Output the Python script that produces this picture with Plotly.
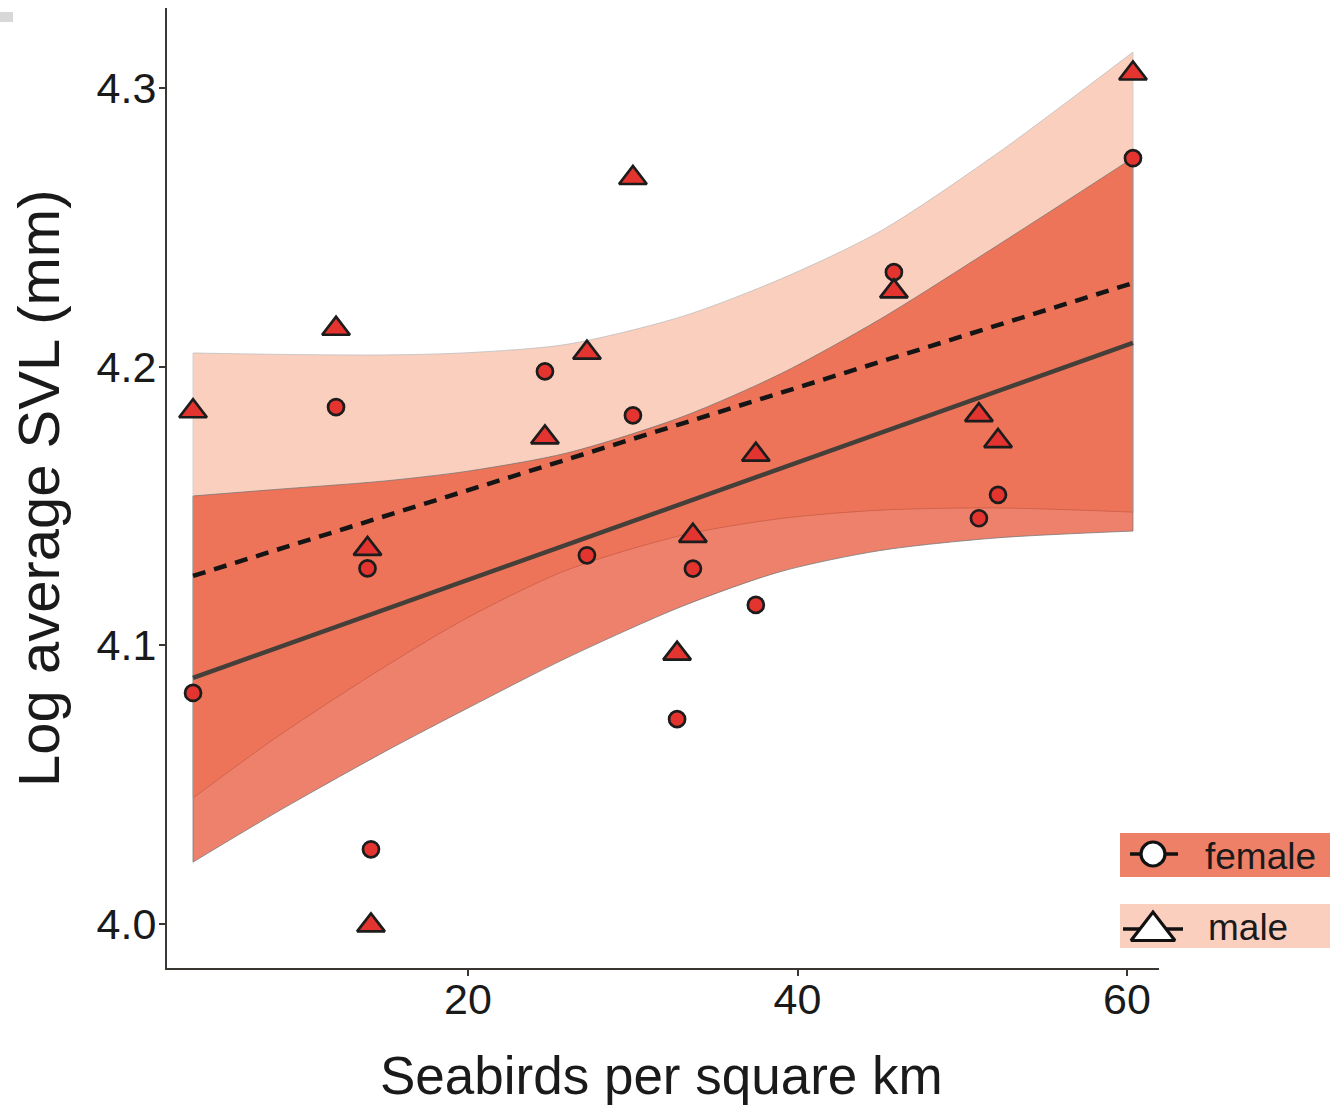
import plotly.graph_objects as go

# ---------------- data ----------------
seabirds = [3.31, 11.99, 13.9, 14.11, 24.67, 27.22, 30.01, 32.69, 33.65, 37.47, 45.85, 51.01, 52.17, 60.36]
svl_female = [4.0829, 4.1855, 4.1276, 4.0268, 4.1983, 4.1323, 4.1825, 4.0735, 4.1275, 4.1145, 4.2339, 4.1456, 4.1540, 4.2748]
svl_male = [4.1840, 4.2136, 4.1346, 3.9995, 4.1746, 4.2050, 4.2677, 4.0970, 4.1393, 4.1684, 4.2270, 4.1826, 4.1733, 4.3052]

fit_x = [3.31, 60.36]
fit_female = [4.0883, 4.2085]
fit_male = [4.1249, 4.2300]

band_x = [3.31, 8.5, 15.0, 20.0, 26.0, 33.0, 39.0, 45.0, 52.0, 60.36]
male_upper = [4.2049, 4.2044, 4.2042, 4.2050, 4.2080, 4.2180, 4.2315, 4.2485, 4.2760, 4.3129]
male_lower = [4.0452, 4.0675, 4.0925, 4.1100, 4.1270, 4.1395, 4.1455, 4.1485, 4.1493, 4.1478]
female_upper = [4.1536, 4.1560, 4.1590, 4.1625, 4.1690, 4.1820, 4.1975, 4.2170, 4.2430, 4.2749]
female_lower = [4.0222, 4.0405, 4.0620, 4.0775, 4.0955, 4.1140, 4.1265, 4.1340, 4.1385, 4.1410]

x_ticks = [20, 40, 60]
y_ticks = [4.0, 4.1, 4.2, 4.3]
legend_labels = ["female", "male"]

# ---------------- styling ----------------
W, H = 1341, 1109
PL, PR, PT, PB = 167, 1159, 8, 968  # panel edges in pixels
FONT = "Liberation Sans, Arial, Helvetica, sans-serif"
TXT = "#1a1a1a"
AX = "#3a3632"
PEACH = "#FBCFBE"
FEM_FILL = "rgba(231,80,50,0.72)"
EDGE = "rgba(115,115,115,0.75)"
PT_FILL = "#E3342F"
PT_LINE = "#1c1c1c"

fig = go.Figure()

# male band (drawn first)
fig.add_trace(go.Scatter(x=band_x, y=male_lower, mode="lines",
                         line=dict(color=EDGE, width=1, shape="spline", smoothing=0.8),
                         hoverinfo="skip", showlegend=False))
fig.add_trace(go.Scatter(x=band_x, y=male_upper, mode="lines", fill="tonexty",
                         fillcolor=PEACH,
                         line=dict(color="rgba(190,190,190,0.8)", width=1, shape="spline",
                                   smoothing=0.8),
                         hoverinfo="skip", showlegend=False))
# female band (semi-transparent, on top)
fig.add_trace(go.Scatter(x=band_x, y=female_lower, mode="lines",
                         line=dict(color=EDGE, width=1, shape="spline", smoothing=0.8),
                         hoverinfo="skip", showlegend=False))
fig.add_trace(go.Scatter(x=band_x, y=female_upper, mode="lines", fill="tonexty",
                         fillcolor=FEM_FILL,
                         line=dict(color=EDGE, width=1, shape="spline", smoothing=0.8),
                         hoverinfo="skip", showlegend=False))
# vertical band ends
for lo, hi, col in [(male_lower, male_upper, "rgba(200,200,200,0.8)"),
                    (female_lower, female_upper, EDGE)]:
    for i in (0, -1):
        fig.add_trace(go.Scatter(x=[band_x[i], band_x[i]], y=[lo[i], hi[i]], mode="lines",
                                 line=dict(color=col, width=1), hoverinfo="skip",
                                 showlegend=False))

# fitted lines
fig.add_trace(go.Scatter(x=fit_x, y=fit_female, mode="lines",
                         line=dict(color="#453f3a", width=4.5), showlegend=False))
fig.add_trace(go.Scatter(x=fit_x, y=fit_male, mode="lines",
                         line=dict(color="#151515", width=4.5, dash="13px,9px"),
                         showlegend=False))

# points
fig.add_trace(go.Scatter(x=seabirds, y=svl_female, mode="markers", name="female",
                         marker=dict(symbol="circle", size=16, color=PT_FILL,
                                     line=dict(color=PT_LINE, width=2.7)),
                         showlegend=False))
fig.add_trace(go.Scatter(x=seabirds, y=svl_male, mode="markers", name="male",
                         marker=dict(symbol="triangle-up", size=24, color=PT_FILL,
                                     line=dict(color=PT_LINE, width=2.7)),
                         showlegend=False))

# ---------------- legend (drawn on a pixel-unit overlay axis) ----------------
LX0, LX1, LY0, LY1 = 1120, 1330, 833, 948
fig.add_trace(go.Scatter(x=[1130, 1178], y=[854, 854], mode="lines",
                         line=dict(color="#111111", width=3.5),
                         xaxis="x2", yaxis="y2", showlegend=False, hoverinfo="skip"))
fig.add_trace(go.Scatter(x=[1153], y=[854], mode="markers",
                         marker=dict(symbol="circle", size=24, color="white",
                                     line=dict(color="#111111", width=3.2)),
                         xaxis="x2", yaxis="y2", showlegend=False, hoverinfo="skip"))
fig.add_trace(go.Scatter(x=[1123, 1183], y=[929, 929], mode="lines",
                         line=dict(color="#111111", width=3.5),
                         xaxis="x2", yaxis="y2", showlegend=False, hoverinfo="skip"))
fig.add_trace(go.Scatter(x=[1153], y=[931], mode="markers",
                         marker=dict(symbol="triangle-up", size=38, color="white",
                                     line=dict(color="#111111", width=3.2)),
                         xaxis="x2", yaxis="y2", showlegend=False, hoverinfo="skip"))

shapes = [
    dict(type="rect", xref="x2", yref="y2", x0=LX0, x1=LX1, y0=833, y1=877,
         fillcolor="#EE8068", line=dict(width=0), layer="below"),
    dict(type="rect", xref="x2", yref="y2", x0=LX0, x1=LX1, y0=904, y1=948,
         fillcolor=PEACH, line=dict(width=0), layer="below"),
    dict(type="rect", xref="paper", yref="paper", x0=0, x1=13 / W,
         y0=(H - 22) / H, y1=(H - 12) / H, fillcolor="#d8d8d8", line=dict(width=0)),
]

annotations = [
    dict(text=legend_labels[0], xref="x2", yref="y2", x=1203, y=856, xanchor="left",
         yanchor="middle", showarrow=False, font=dict(family=FONT, size=37, color=TXT)),
    dict(text=legend_labels[1], xref="x2", yref="y2", x=1206, y=927, xanchor="left",
         yanchor="middle", showarrow=False, font=dict(family=FONT, size=37, color=TXT)),
    dict(text="Seabirds per square km", xref="paper", yref="paper",
         x=661 / W, y=(H - 1075) / H, xanchor="center", yanchor="middle",
         showarrow=False, font=dict(family=FONT, size=53, color=TXT)),
    dict(text="Log average SVL (mm)", xref="paper", yref="paper",
         x=38 / W, y=(H - 489) / H, xanchor="center", yanchor="middle", textangle=-90,
         showarrow=False, font=dict(family=FONT, size=58, color=TXT)),
]

fig.update_layout(
    width=W, height=H,
    margin=dict(l=0, r=0, t=0, b=0),
    paper_bgcolor="white", plot_bgcolor="white",
    showlegend=False,
    shapes=shapes, annotations=annotations,
    xaxis=dict(domain=[PL / W, PR / W], range=[1.73, 61.94],
               tickvals=x_ticks, ticktext=[str(v) for v in x_ticks],
               showgrid=False, zeroline=False,
               showline=True, linecolor=AX, linewidth=2.2,
               ticks="outside", ticklen=6, tickwidth=1.8, tickcolor=AX,
               ticklabelstandoff=-14,
               tickfont=dict(family=FONT, size=43, color=TXT)),
    yaxis=dict(domain=[(H - PB) / H, (H - PT) / H], range=[3.9842, 4.3287],
               tickvals=y_ticks, ticktext=[f"{v:.1f}" for v in y_ticks],
               showgrid=False, zeroline=False,
               showline=True, linecolor=AX, linewidth=2.2,
               ticks="outside", ticklen=6, tickwidth=1.8, tickcolor=AX,
               ticklabelstandoff=-6,
               tickfont=dict(family=FONT, size=43, color=TXT)),
    xaxis2=dict(domain=[LX0 / W, LX1 / W], range=[LX0, LX1], visible=False,
                anchor="y2", fixedrange=True),
    yaxis2=dict(domain=[(H - LY1) / H, (H - LY0) / H], range=[LY1, LY0], visible=False,
                anchor="x2", fixedrange=True),
)

fig.write_html("out.html",
               config={"displayModeBar": False},
               post_script="document.body.style.margin='0px';"
                           "document.body.style.overflow='hidden';")
